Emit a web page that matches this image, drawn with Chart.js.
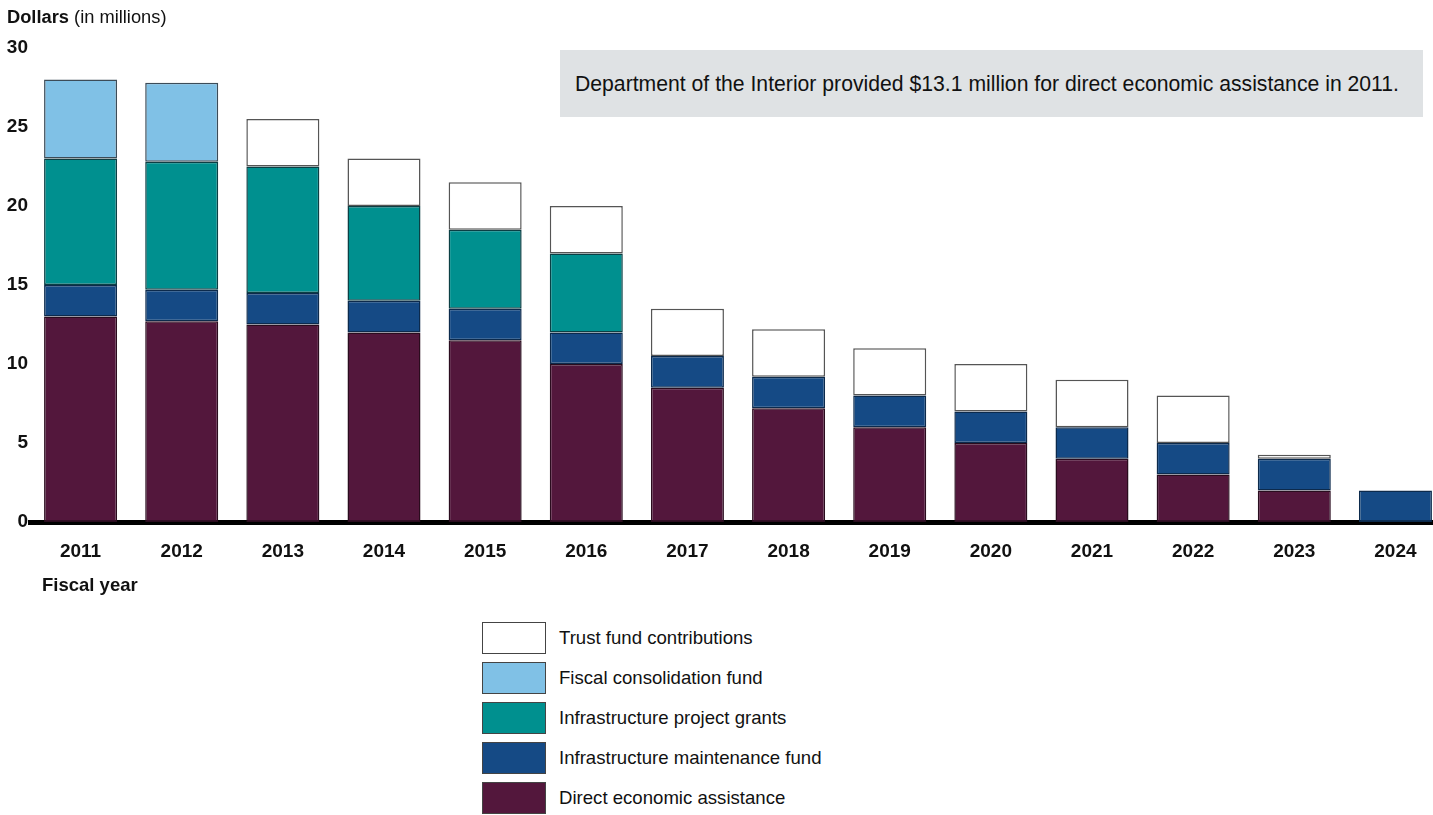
<!DOCTYPE html>
<html>
<head>
<meta charset="utf-8">
<script src="https://cdn.jsdelivr.net/npm/chart.js@4/dist/chart.umd.min.js"></script>
<style>
    html, body { margin: 0; padding: 0; background: #fff; overflow: hidden; }
    body { width: 1433px; height: 815px; position: relative; font-family: "Liberation Sans", Arial, sans-serif; color: #111; }
    #wrap { position: absolute; left: 0; top: 0; width: 1446px; height: 600px; }
    #yTitle { position: absolute; left: 7px; top: 6px; font-size: 18.3px; }
    #yTitle b { font-weight: bold; }
    #xTitle { position: absolute; left: 42px; top: 574px; font-size: 18.5px; font-weight: bold; }
    #note { position: absolute; left: 560px; top: 50px; width: 863px; height: 67px; background: #dfe2e4;
            font-size: 21.2px; line-height: 67px; padding-left: 15px; box-sizing: border-box; white-space: nowrap; }
    #legend { position: absolute; left: 482px; top: 622px; }
    .item { display: flex; align-items: center; height: 32px; margin-bottom: 8px; }
    .swatch { width: 62px; height: 30px; border: 1.5px solid #444; margin-right: 13px; }
    .item span { font-size: 18.6px; }
</style>
</head>
<body>
<div id="wrap"><canvas id="chart"></canvas></div>
<div id="yTitle"><b>Dollars</b> (in millions)</div>
<div id="xTitle">Fiscal year</div>
<div id="note">Department of the Interior provided $13.1 million for direct economic assistance in 2011.</div>
<div id="legend"></div>
<script>
// Fiscal years
const years = ['2011', '2012', '2013', '2014', '2015', '2016', '2017', '2018', '2019', '2020', '2021', '2022', '2023', '2024'];

// Series values, dollars in millions (stacked bottom to top)
const directAssistance = [13, 12.7, 12.5, 12, 11.5, 10, 8.5, 7.2, 6, 5, 4, 3, 2, 0];
const maintenanceFund = [2, 2, 2, 2, 2, 2, 2, 2, 2, 2, 2, 2, 2, 2];
const projectGrants = [8, 8.1, 8, 6, 5, 5, 0, 0, 0, 0, 0, 0, 0, 0];
const fiscalFund = [5, 5, 0, 0, 0, 0, 0, 0, 0, 0, 0, 0, 0, 0];
const trustFund = [0, 0, 3, 3, 3, 3, 3, 3, 3, 3, 3, 3, 0.25, 0];

// Y axis ticks
const yTicks = [0, 5, 10, 15, 20, 25, 30];

const series = [
    { label: 'Direct economic assistance', data: directAssistance, color: '#53173c', border: '#2a0c1e' },
    { label: 'Infrastructure maintenance fund', data: maintenanceFund, color: '#154a85', border: '#0c2a4c' },
    { label: 'Infrastructure project grants', data: projectGrants, color: '#00908f', border: '#0b3f44' },
    { label: 'Fiscal consolidation fund', data: fiscalFund, color: '#80c1e6', border: '#3c4c58' },
    { label: 'Trust fund contributions', data: trustFund, color: '#ffffff', border: '#555555' }
];

// Legend, top entry first
const legendEl = document.getElementById('legend');
series.slice().reverse().forEach(s => {
    const row = document.createElement('div');
    row.className = 'item';
    const sw = document.createElement('div');
    sw.className = 'swatch';
    sw.style.background = s.color;
    const txt = document.createElement('span');
    txt.textContent = s.label;
    row.appendChild(sw);
    row.appendChild(txt);
    legendEl.appendChild(row);
});

const ctx = document.getElementById('chart');
new Chart(ctx, {
    type: 'bar',
    data: {
        labels: years,
        datasets: series.map(s => ({
            label: s.label,
            data: s.data.map(v => v === 0 ? null : v),
            backgroundColor: s.color,
            borderColor: s.border,
            borderWidth: 1.5,
            borderSkipped: false,
            barPercentage: 0.722,
            categoryPercentage: 1
        }))
    },
    options: {
        responsive: true,
        maintainAspectRatio: false,
        animation: false,
        layout: { padding: { top: 48, left: 0, right: 0, bottom: 38 } },
        plugins: { legend: { display: false }, tooltip: { enabled: false } },
        scales: {
            x: {
                stacked: true,
                afterFit: (scale) => { scale.height = 40; },
                grid: { display: false, drawTicks: false },
                border: { display: true, color: '#000', width: 5 },
                ticks: {
                    padding: 18,
                    color: '#111',
                    font: { family: 'Liberation Sans', size: 19, weight: 'bold' }
                }
            },
            y: {
                stacked: true,
                min: 0,
                max: 30,
                afterFit: (scale) => { scale.width = 30; },
                afterBuildTicks: (scale) => { scale.ticks = yTicks.map(v => ({ value: v })); },
                grid: { display: false, drawTicks: false },
                border: { display: false },
                ticks: {
                    padding: 2,
                    color: '#111',
                    font: { family: 'Liberation Sans', size: 19, weight: 'bold' }
                }
            }
        }
    }
});
</script>
</body>
</html>
